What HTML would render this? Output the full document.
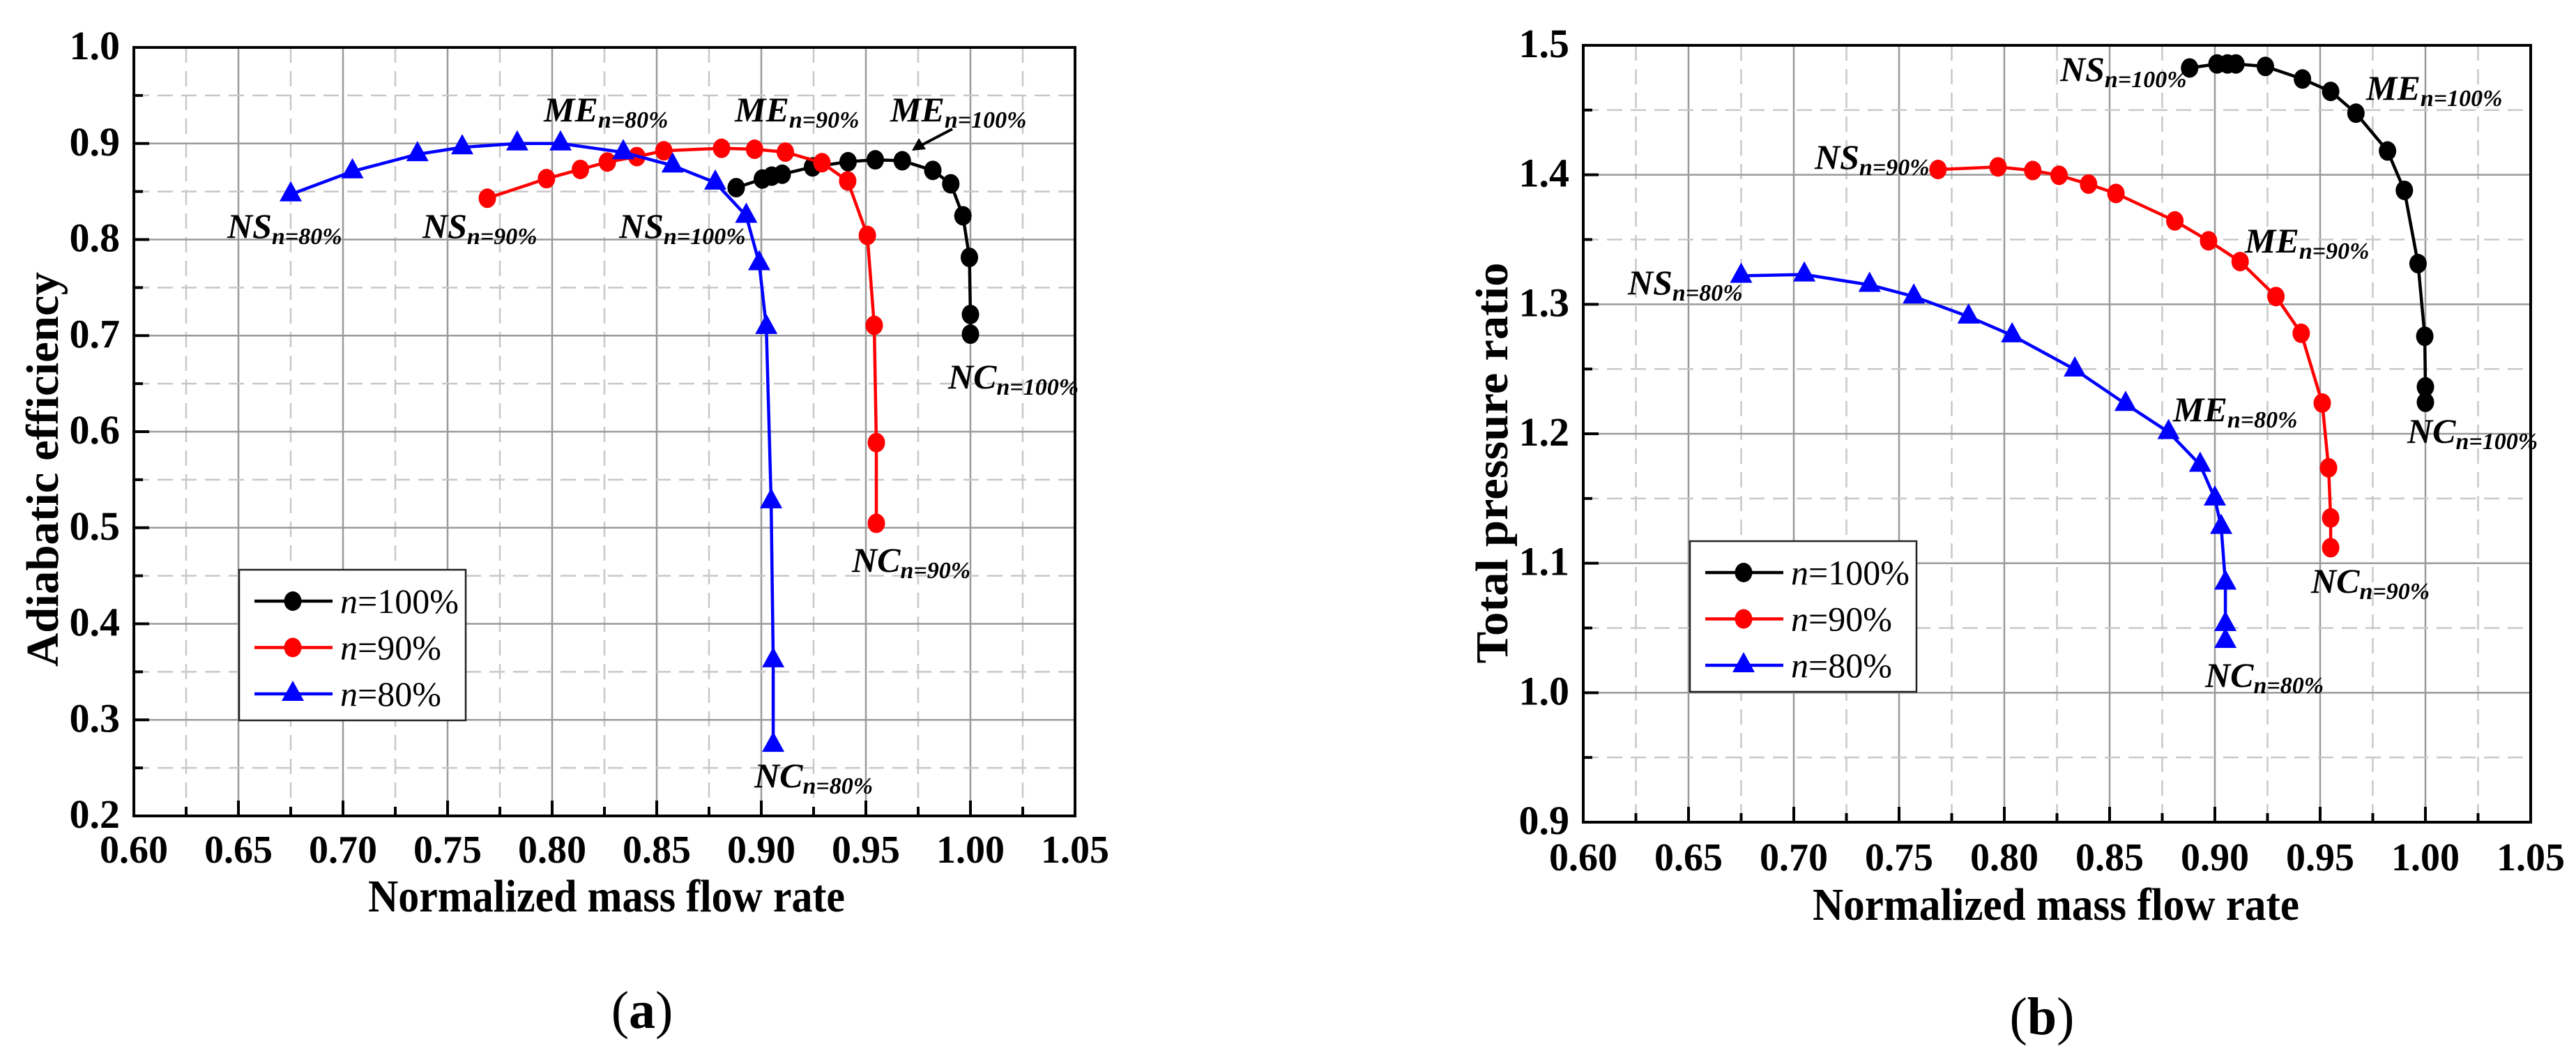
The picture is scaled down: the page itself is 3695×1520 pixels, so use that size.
<!DOCTYPE html>
<html><head><meta charset="utf-8"><style>
html,body{margin:0;padding:0;background:#fff;}
svg, svg text, svg tspan{font-family:"Liberation Serif","DejaVu Serif",serif;}
</style></head><body>
<svg id="fig" width="3695" height="1515" viewBox="0 0 3695 1515" xmlns="http://www.w3.org/2000/svg" font-family="Liberation Serif, DejaVu Serif, serif">
<g id="chartA"></g>
<g id="chartB"></g>
</svg>
<script>
// ---- data ----
const xTicks = ["0.60","0.65","0.70","0.75","0.80","0.85","0.90","0.95","1.00","1.05"];
const effTicks = ["0.2","0.3","0.4","0.5","0.6","0.7","0.8","0.9","1.0"];
const prTicks = ["0.9","1.0","1.1","1.2","1.3","1.4","1.5"];
const seriesNames = ["n=100%","n=90%","n=80%"];

// chart (a) adiabatic efficiency
const effX100 = [0.888,0.9005,0.905,0.910,0.9245,0.9415,0.9545,0.9674,0.982,0.9906,0.9964,0.9995,1.000,1.000];
const effY100 = [0.854,0.863,0.866,0.868,0.8756,0.881,0.883,0.882,0.872,0.858,0.8247,0.7814,0.722,0.7015];
const effX90 = [0.769,0.7973,0.8135,0.8264,0.8405,0.8534,0.881,0.8968,0.9115,0.929,0.9413,0.9507,0.954,0.955,0.955];
const effY90 = [0.843,0.8634,0.873,0.8807,0.8863,0.8924,0.895,0.894,0.891,0.880,0.861,0.8043,0.7107,0.5886,0.5046];
const effX80 = [0.675,0.7045,0.7356,0.757,0.7833,0.804,0.834,0.8576,0.878,0.8928,0.899,0.9024,0.9047,0.9057,0.9057];
const effY80 = [0.847,0.871,0.8888,0.896,0.900,0.900,0.8908,0.877,0.8593,0.8247,0.7753,0.709,0.5275,0.362,0.274];

// chart (b) total pressure ratio
const prX100 = [0.888,0.901,0.906,0.910,0.924,0.9416,0.955,0.967,0.982,0.990,0.9965,0.9997,1.000,1.000];
const prY100 = [1.4825,1.4856,1.4856,1.4856,1.4837,1.474,1.4644,1.4476,1.4184,1.388,1.3314,1.2753,1.2362,1.2243];
const prX90 = [0.7685,0.797,0.8135,0.826,0.840,0.853,0.881,0.897,0.912,0.929,0.941,0.951,0.954,0.955,0.955];
const prY90 = [1.4041,1.4061,1.4033,1.3996,1.3928,1.3856,1.3644,1.349,1.333,1.306,1.2776,1.2237,1.1737,1.135,1.112];
const prX80 = [0.675,0.705,0.736,0.757,0.783,0.8037,0.8335,0.8576,0.878,0.893,0.900,0.903,0.905,0.905,0.905];
const prY80 = [1.322,1.323,1.315,1.306,1.2905,1.276,1.2496,1.223,1.2013,1.176,1.150,1.128,1.085,1.053,1.040];

const NS = "http://www.w3.org/2000/svg";
const FF = "Liberation Serif, DejaVu Serif, serif";
function mk(parent, tag, attrs){
  const e = document.createElementNS(NS, tag);
  for (const k in attrs) e.setAttribute(k, attrs[k]);
  if (tag === 'text') e.setAttribute('font-family', FF);
  parent.appendChild(e);
  return e;
}
const colors = ["#000000","#ff0000","#0000ff"];
const markers = ["circle","circle","triangle"];

function drawChart(g, cfg){
  const L=cfg.L, R=cfg.R, T=cfg.T, B=cfg.B;
  const xmin=0.60, xmax=1.05;
  const sx = v => L + (v-xmin)/(xmax-xmin)*(R-L);
  const sy = v => B - (v-cfg.ymin)/(cfg.ymax-cfg.ymin)*(B-T);
  const grid = mk(g,'g',{});
  
  
  const nx = xTicks.length-1;
  for(let i=0;i<nx;i++){
    const xm = sx(xmin + (i+0.5)*0.05);
    const dl = mk(grid,'line',{x1:xm,y1:T,x2:xm,y2:B,stroke:'#c8c8c8','stroke-width':2.5,'stroke-dasharray':'22 12'});
    
    
  }
  for(let i=1;i<nx;i++){
    const x = sx(parseFloat(xTicks[i]));
    const l = mk(grid,'line',{x1:x,y1:T,x2:x,y2:B,stroke:'#9a9a9a','stroke-width':2.5});
    
    
  }
  const yt = cfg.yTicks, ny = yt.length-1, ystep=(cfg.ymax-cfg.ymin)/ny;
  for(let i=0;i<ny;i++){
    const ym = sy(cfg.ymin + (i+0.5)*ystep);
    const dl = mk(grid,'line',{x1:L,y1:ym,x2:R,y2:ym,stroke:'#c8c8c8','stroke-width':2.5,'stroke-dasharray':'22 12'});
    
    
  }
  for(let i=1;i<ny;i++){
    const y = sy(parseFloat(yt[i]));
    const l = mk(grid,'line',{x1:L,y1:y,x2:R,y2:y,stroke:'#9a9a9a','stroke-width':2.5});
    
    
  }
  for(let i=0;i<=nx;i++){
    const x = sx(parseFloat(xTicks[i]));
    const t = mk(g,'line',{x1:x,y1:B,x2:x,y2:B-22,stroke:'#000','stroke-width':4});
    
    
    if(i<nx){
      const xm = sx(xmin+(i+0.5)*0.05);
      const t2 = mk(g,'line',{x1:xm,y1:B,x2:xm,y2:B-13,stroke:'#000','stroke-width':4});
      
      
    }
    const lab = mk(g,'text',{x:x,y:cfg.xLabY,'text-anchor':'middle','font-size':56,'font-weight':'bold'});
    
    
    lab.textContent = xTicks[i];
  }
  for(let i=0;i<=ny;i++){
    const y = sy(parseFloat(yt[i]));
    const t = mk(g,'line',{x1:L,y1:y,x2:L+22,y2:y,stroke:'#000','stroke-width':4});
    
    
    if(i<ny){
      const ym = sy(cfg.ymin+(i+0.5)*ystep);
      const t2 = mk(g,'line',{x1:L,y1:ym,x2:L+13,y2:ym,stroke:'#000','stroke-width':4});
      
      
    }
    const lab = mk(g,'text',{x:L-20,y:y+17,'text-anchor':'end','font-size':58,'font-weight':'bold'});
    
    
    lab.textContent = yt[i];
  }
  const fr = mk(g,'rect',{x:L,y:T,width:R-L,height:B-T,fill:'none',stroke:'#000','stroke-width':4});
  
  
  const xt = mk(g,'text',{x:cfg.xTitleX,y:cfg.xTitleY,'text-anchor':'middle','font-size':66,'font-weight':'bold',textLength:cfg.xTitleLen,lengthAdjust:'spacingAndGlyphs'});
  
  
  xt.textContent='Normalized mass flow rate';
  const ytt = mk(g,'text',{x:0,y:0,'text-anchor':'middle','font-size':66,'font-weight':'bold',textLength:cfg.yTitleLen,lengthAdjust:'spacingAndGlyphs',transform:'translate('+(cfg.yTitleX+22)+','+cfg.yTitleY+') rotate(-90)'});
  
  
  ytt.textContent=cfg.yTitle;
  const cap = mk(g,'text',{x:cfg.capX,y:cfg.capY,'text-anchor':'middle','font-size':76});
  
  
  cap.innerHTML = '(<tspan font-weight="bold">'+cfg.cap+'</tspan>)';
  for(let s=0;s<3;s++){
    const xs=cfg.xs[s], ys=cfg.ys[s];
    const sg = mk(g,'g',{});
    
    
    const pts = xs.map((v,i)=>sx(v)+','+sy(ys[i])).join(' ');
    const pl = mk(sg,'polyline',{points:pts,fill:'none',stroke:colors[s],'stroke-width':4.5,'stroke-linejoin':'round'});
    
    
    for(let i=0;i<xs.length;i++){
      drawMarker(sg, s, sx(xs[i]), sy(ys[i]));
    }
  }
  const lg = mk(g,'g',{});
  
  
  const lb = mk(lg,'rect',{x:cfg.legX,y:cfg.legY,width:325,height:216,fill:'#fff',stroke:'#222','stroke-width':2.5});
  
  
  for(let s=0;s<3;s++){
    const cy = cfg.legY+45+s*66.5;
    const le = mk(lg,'g',{});
    
    
    mk(le,'line',{x1:cfg.legX+22,y1:cy,x2:cfg.legX+134,y2:cy,stroke:colors[s],'stroke-width':4.5});
    drawMarker(le, s, cfg.legX+77, cy);
    const tx = mk(le,'text',{x:cfg.legX+145,y:cy+17,'font-size':50});
    tx.innerHTML = '<tspan font-style="italic">n</tspan>='+seriesNames[s].slice(2);
  }
  cfg.notes.forEach(n=>{
    const t = mk(g,'text',{x:n[1],y:n[2],'font-size':50,'font-weight':'bold','font-style':'italic'});
    
    
    t.innerHTML = n[0]+'<tspan font-size="34" dy="9">n=' + n[3] + '%</tspan>';
  });
}
function drawMarker(parent, s, x, y){
  let m;
  if(markers[s]==='circle'){
    m = mk(parent,'ellipse',{cx:x,cy:y,rx:12.5,ry:14,fill:colors[s]});
  } else {
    m = mk(parent,'polygon',{points:(x)+','+(y-19)+' '+(x-16)+','+(y+10)+' '+(x+16)+','+(y+10),fill:colors[s]});
  }
  
  
}

drawChart(document.getElementById('chartA'),{
  L:192,R:1542,T:68,B:1170,ymin:0.2,ymax:1.0,yTicks:effTicks,
  xLabY:1237,xTitleX:870,xTitleY:1307,xTitleLen:684,
  yTitle:'Adiabatic efficiency',yTitleX:61,yTitleY:673,yTitleLen:566,
  capX:921,capY:1474,cap:'a',
  xs:[effX100,effX90,effX80],ys:[effY100,effY90,effY80],
  legX:343,legY:817,
  notes:[["NS",326,341,"80"],["NS",606,341,"90"],["NS",888,341,"100"],
         ["ME",780,174,"80"],["ME",1054,174,"90"],["ME",1277,174,"100"],
         ["NC",1360,557,"100"],["NC",1222,820,"90"],["NC",1082,1129,"80"]]
});
drawChart(document.getElementById('chartB'),{
  L:2271,R:3630,T:65,B:1179,ymin:0.9,ymax:1.5,yTicks:prTicks,
  xLabY:1248,xTitleX:2949,xTitleY:1319,xTitleLen:698,
  yTitle:'Total pressure ratio',yTitleX:2140,yTitleY:664,yTitleLen:575,
  capX:2929,capY:1483,cap:'b',
  xs:[prX100,prX90,prX80],ys:[prY100,prY90,prY80],
  legX:2424,legY:776,
  notes:[["NS",2335,422,"80"],["NS",2603,242,"90"],["NS",2955,116,"100"],
         ["ME",3117,604,"80"],["ME",3220,362,"90"],["ME",3394,143,"100"],
         ["NC",3453,635,"100"],["NC",3315,850,"90"],["NC",3163,985,"80"]]
});
const ga = document.getElementById('chartA');
const ar = mk(ga,'g',{});


mk(ar,'line',{x1:1366,y1:185,x2:1322,y2:208,stroke:'#000','stroke-width':4});
mk(ar,'polygon',{points:'1308,216 1318,198 1328,214',fill:'#000'});
</script>
</body></html>
